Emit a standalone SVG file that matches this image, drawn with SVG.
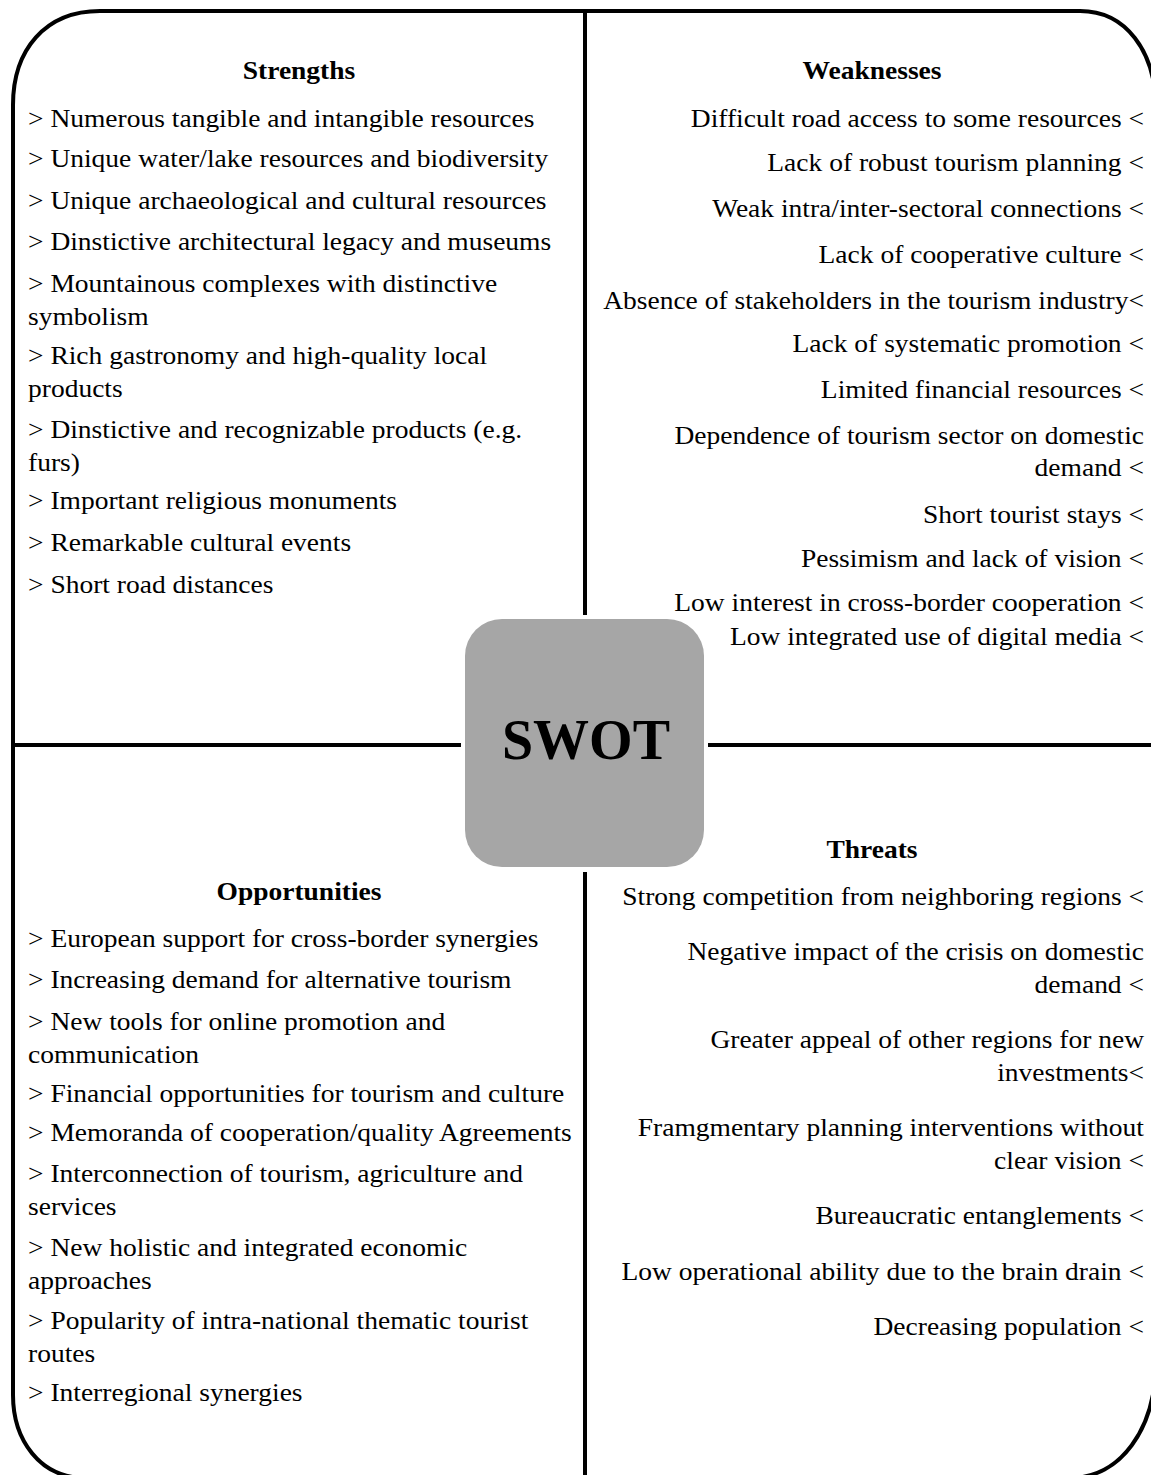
<svg xmlns="http://www.w3.org/2000/svg" width="1151" height="1475" viewBox="0 0 1151 1475">
<style>
.t{font-family:"Liberation Serif","Times New Roman",serif;font-size:26px;fill:#000}
.h{font-family:"Liberation Serif","Times New Roman",serif;font-size:26px;font-weight:bold;fill:#000;text-anchor:middle}
.r{text-anchor:end}
.ln{stroke:#000;stroke-width:4;fill:none}
</style>
<rect x="0" y="0" width="1151" height="1475" fill="#fff"/>
<g id="frame">
<path class="ln" stroke-width="4.5" d="M100,11 L1080,11 C1125,11 1156,50 1156,110 L1156,1360 C1156,1430 1120,1478 1070,1478 L85,1478 C40,1478 13,1440 13,1395 L13,105 C13,50 45,11 100,11 Z"/>
</g>
<g id="connectors">
<line class="ln" x1="585" y1="11" x2="585" y2="615"/>
<line class="ln" x1="585" y1="872" x2="585" y2="1478"/>
<line class="ln" x1="13" y1="745" x2="461" y2="745"/>
<line class="ln" x1="708" y1="745" x2="1156" y2="745"/>
</g>
<g id="node-swot">
<rect x="465" y="619" width="239" height="248" rx="37" ry="37" fill="#a6a6a6"/>
<text x="586" y="759" font-family="Liberation Serif, serif" font-size="56" font-weight="bold" text-anchor="middle">SWOT</text>
</g>
<g id="node-strengths">
<g transform="translate(299,0) scale(1.058,1)"><text class="h" x="0" y="79">Strengths</text></g>
<g transform="translate(28,0) scale(1.058,1)">
<text class="t" x="0" y="127">&gt; Numerous tangible and intangible resources</text>
<text class="t" x="0" y="167">&gt; Unique water/lake resources and biodiversity</text>
<text class="t" x="0" y="209">&gt; Unique archaeological and cultural resources</text>
<text class="t" x="0" y="250">&gt; Dinstictive architectural legacy and museums</text>
<text class="t" x="0" y="292">&gt; Mountainous complexes with distinctive</text>
<text class="t" x="0" y="325">symbolism</text>
<text class="t" x="0" y="364">&gt; Rich gastronomy and high-quality local</text>
<text class="t" x="0" y="397">products</text>
<text class="t" x="0" y="438">&gt; Dinstictive and recognizable products (e.g.</text>
<text class="t" x="0" y="471">furs)</text>
<text class="t" x="0" y="509">&gt; Important religious monuments</text>
<text class="t" x="0" y="551">&gt; Remarkable cultural events</text>
<text class="t" x="0" y="593">&gt; Short road distances</text>
</g>
</g>
<g id="node-weaknesses">
<g transform="translate(872,0) scale(1.058,1)"><text class="h" x="0" y="79">Weaknesses</text></g>
<g transform="translate(1144,0) scale(1.058,1)">
<text class="t r" x="0" y="127">Difficult road access to some resources &lt;</text>
<text class="t r" x="0" y="171">Lack of robust tourism planning &lt;</text>
<text class="t r" x="0" y="217">Weak intra/inter-sectoral connections &lt;</text>
<text class="t r" x="0" y="263">Lack of cooperative culture &lt;</text>
<text class="t r" x="0" y="309">Absence of stakeholders in the tourism industry&lt;</text>
<text class="t r" x="0" y="352">Lack of systematic promotion &lt;</text>
<text class="t r" x="0" y="398">Limited financial resources &lt;</text>
<text class="t r" x="0" y="444">Dependence of tourism sector on domestic</text>
<text class="t r" x="0" y="476">demand &lt;</text>
<text class="t r" x="0" y="523">Short tourist stays &lt;</text>
<text class="t r" x="0" y="567">Pessimism and lack of vision &lt;</text>
<text class="t r" x="0" y="611">Low interest in cross-border cooperation &lt;</text>
<text class="t r" x="0" y="645">Low integrated use of digital media &lt;</text>
</g>
</g>
<g id="node-opportunities">
<g transform="translate(299,0) scale(1.058,1)"><text class="h" x="0" y="900">Opportunities</text></g>
<g transform="translate(28,0) scale(1.058,1)">
<text class="t" x="0" y="947">&gt; European support for cross-border synergies</text>
<text class="t" x="0" y="988">&gt; Increasing demand for alternative tourism</text>
<text class="t" x="0" y="1030">&gt; New tools for online promotion and</text>
<text class="t" x="0" y="1063">communication</text>
<text class="t" x="0" y="1102">&gt; Financial opportunities for tourism and culture</text>
<text class="t" x="0" y="1141">&gt; Memoranda of cooperation/quality Agreements</text>
<text class="t" x="0" y="1182">&gt; Interconnection of tourism, agriculture and</text>
<text class="t" x="0" y="1215">services</text>
<text class="t" x="0" y="1256">&gt; New holistic and integrated economic</text>
<text class="t" x="0" y="1289">approaches</text>
<text class="t" x="0" y="1329">&gt; Popularity of intra-national thematic tourist</text>
<text class="t" x="0" y="1362">routes</text>
<text class="t" x="0" y="1401">&gt; Interregional synergies</text>
</g>
</g>
<g id="node-threats">
<g transform="translate(872,0) scale(1.058,1)"><text class="h" x="0" y="858">Threats</text></g>
<g transform="translate(1144,0) scale(1.058,1)">
<text class="t r" x="0" y="905">Strong competition from neighboring regions &lt;</text>
<text class="t r" x="0" y="960">Negative impact of the crisis on domestic</text>
<text class="t r" x="0" y="993">demand &lt;</text>
<text class="t r" x="0" y="1048">Greater appeal of other regions for new</text>
<text class="t r" x="0" y="1081">investments&lt;</text>
<text class="t r" x="0" y="1136">Framgmentary planning interventions without</text>
<text class="t r" x="0" y="1169">clear vision &lt;</text>
<text class="t r" x="0" y="1224">Bureaucratic entanglements &lt;</text>
<text class="t r" x="0" y="1280">Low operational ability due to the brain drain &lt;</text>
<text class="t r" x="0" y="1335">Decreasing population &lt;</text>
</g>
</g>
</svg>
